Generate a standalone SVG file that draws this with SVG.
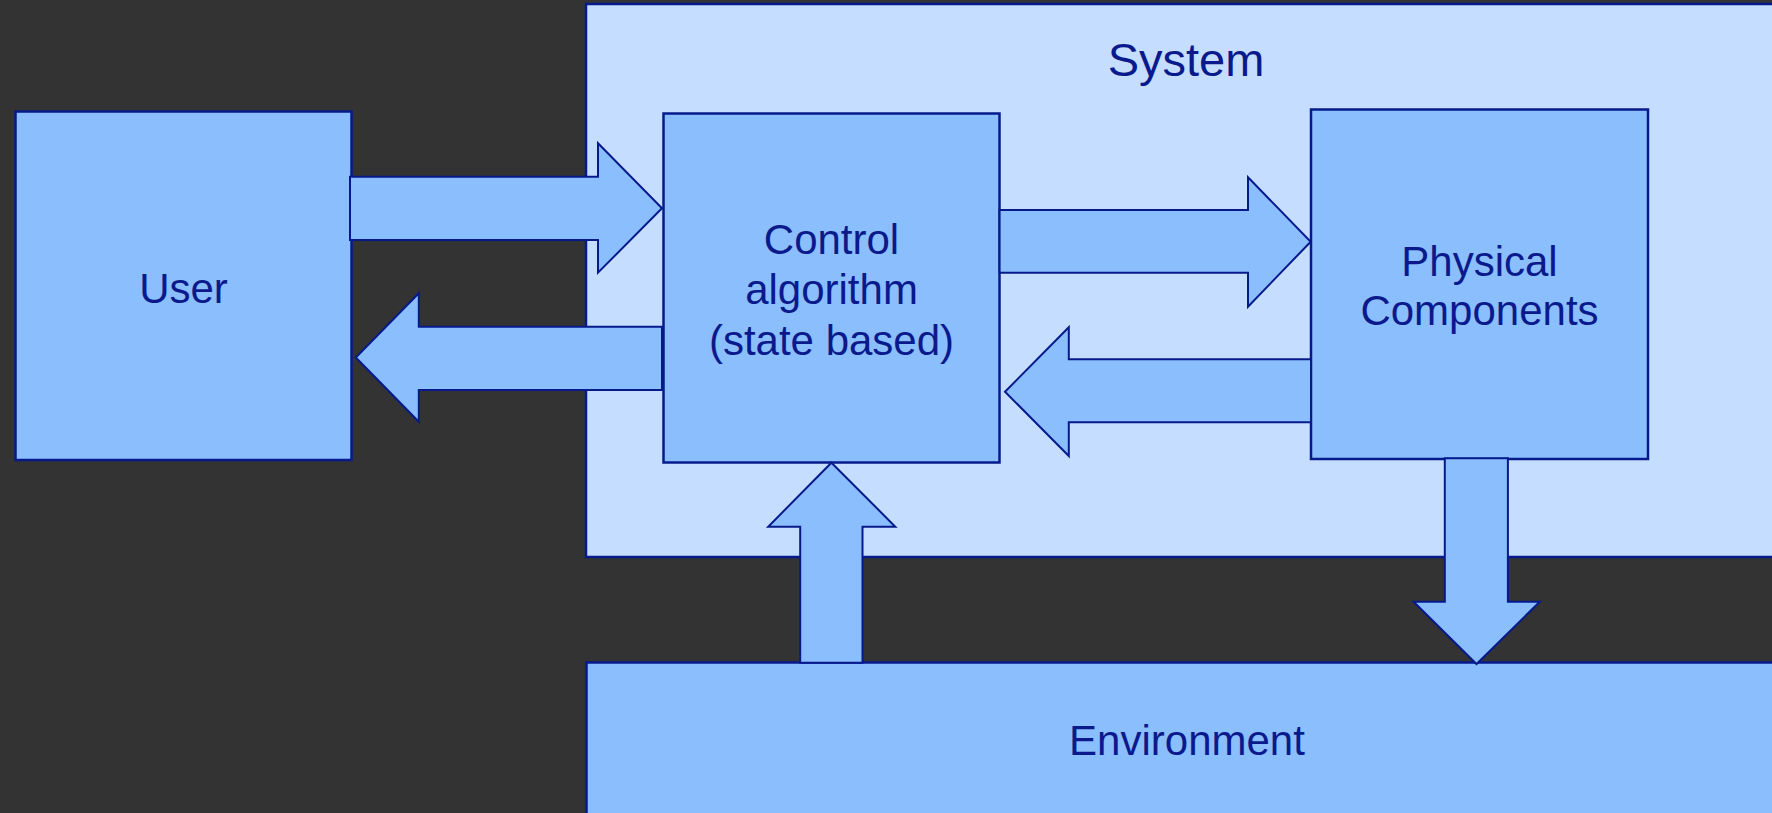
<svg xmlns="http://www.w3.org/2000/svg" width="1772" height="813" viewBox="0 0 1772 813">
<style>
.bg{fill:#333333}
.sys{fill:#C5DEFF;stroke:#071A8C;stroke-width:2.5}
.box{fill:#8BBEFD;stroke:#071A8C;stroke-width:2.5}
.arr{fill:#8BBEFD;stroke:#071A8C;stroke-width:2;stroke-linejoin:miter}
.lbl{font-family:"Liberation Sans",Arial,sans-serif;font-size:42px;fill:#0A1A8C;text-anchor:middle}
.ttl{font-family:"Liberation Sans",Arial,sans-serif;font-size:47px;fill:#0A1A8C;text-anchor:middle}
</style>
<rect class="bg" x="0" y="0" width="1772" height="813"/>
<g id="system">
<rect class="sys" x="586" y="4" width="1204" height="553"/>
<text class="ttl" x="1186" y="76">System</text>
</g>
<g id="environment">
<rect class="box" x="586.5" y="662.5" width="1204" height="170"/>
<text class="lbl" x="1187" y="755">Environment</text>
</g>
<g id="user">
<rect class="box" x="15.5" y="111.5" width="336" height="348.5"/>
<text class="lbl" x="183.5" y="302.5">User</text>
</g>
<g id="control">
<rect class="box" x="663.5" y="113.5" width="336" height="349"/>
<text class="lbl" x="831.5" y="253.5">Control</text>
<text class="lbl" x="831.5" y="304">algorithm</text>
<text class="lbl" x="831.5" y="354.5">(state based)</text>
</g>
<g id="physical">
<rect class="box" x="1311" y="109.5" width="337" height="349.5"/>
<text class="lbl" x="1479.5" y="276">Physical</text>
<text class="lbl" x="1479.5" y="325">Components</text>
</g>
<g id="connectors">
<polygon class="arr" points="350,176.7 598,176.7 598,143.3 662,208.3 598,272.7 598,240 350,240"/>
<polygon class="arr" points="662,326.7 418.8,326.7 418.8,293.3 355.8,357.5 418.8,421.7 418.8,390 662,390"/>
<polygon class="arr" points="999.6,210 1248,210 1248,177.3 1310.7,241.7 1248,306.7 1248,272.7 999.6,272.7"/>
<polygon class="arr" points="1311,359.3 1068.8,359.3 1068.8,327.3 1005,391.7 1068.8,456 1068.8,422.3 1311,422.3"/>
<polygon class="arr" points="800.2,662.7 800.2,526.7 768.2,526.7 831.4,462.7 895.3,526.7 862.5,526.7 862.5,662.7"/>
<polygon class="arr" points="1444.8,458.3 1444.8,601.7 1413.6,601.7 1476.5,664 1539.8,601.7 1507.9,601.7 1507.9,458.3"/>
</g>
</svg>
